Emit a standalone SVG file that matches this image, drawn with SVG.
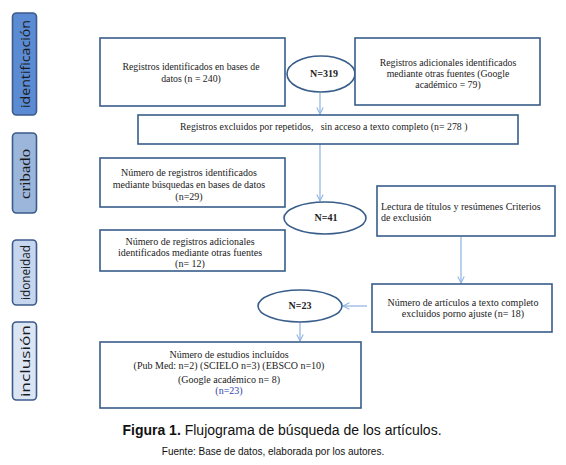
<svg xmlns="http://www.w3.org/2000/svg" width="566" height="465" viewBox="0 0 566 465">
<defs>
<marker id="arr" viewBox="0 0 10 10" refX="9" refY="5" markerWidth="8" markerHeight="8" orient="auto" markerUnits="userSpaceOnUse">
<path d="M1,1 L9,5 L1,9" fill="none" stroke="#8db3e2" stroke-width="1.3"/>
</marker>
</defs>
<style>
.box{fill:#fff;stroke:#385d8a;stroke-width:1.6}
.tab{stroke:#3b5b8a;stroke-width:1.6}
.t{font-family:"Liberation Serif","Times New Roman",serif;font-size:9.8px;fill:#222}
.m{font-size:10px}
.c{text-anchor:middle}
.b{font-weight:bold;font-size:10px}
.tabt{font-family:"Open Sans","Liberation Sans",sans-serif;font-size:13px;fill:#1a1a1a;text-anchor:middle;dominant-baseline:central}
.tabs{font-family:"Liberation Serif","Times New Roman",serif;font-size:15px;fill:#1a1a1a;text-anchor:middle;dominant-baseline:central}
.conn{stroke:#8db3e2;stroke-width:1.2;fill:none;marker-end:url(#arr)}
</style>
<rect width="566" height="465" fill="#fff"/>

<g id="tab-identificacion">
<rect class="tab" x="12.5" y="13" width="24" height="102" rx="4" fill="#5b8bd3"/>
<text class="tabt" transform="translate(25,64) rotate(-90)" textLength="88" lengthAdjust="spacingAndGlyphs">identificación</text>
</g>
<g id="tab-cribado">
<rect class="tab" x="12.5" y="133" width="24" height="80" rx="4" fill="#9cb5da"/>
<text class="tabs" transform="translate(25,174) rotate(-90)" textLength="50" lengthAdjust="spacingAndGlyphs">cribado</text>
</g>
<g id="tab-idoneidad">
<rect class="tab" x="12.5" y="240" width="24" height="65" rx="4" fill="#c6d6ee"/>
<text class="tabt" transform="translate(25,272.5) rotate(-90)" textLength="55" lengthAdjust="spacingAndGlyphs">idoneidad</text>
</g>
<g id="tab-inclusion">
<rect class="tab" x="12.5" y="322" width="24" height="78" rx="4" fill="#dbe5f4"/>
<text class="tabt" transform="translate(25,361) rotate(-90)" textLength="72" lengthAdjust="spacingAndGlyphs">inclusión</text>
</g>

<g id="connectors">
<line class="conn" x1="320" y1="93" x2="320" y2="114"/>
<line class="conn" x1="320" y1="144" x2="320" y2="201"/>
<line class="conn" x1="461" y1="237" x2="461" y2="283"/>
<line class="conn" x1="367" y1="306" x2="343" y2="306"/>
<line class="conn" x1="300" y1="322" x2="300" y2="341"/>
</g>

<g id="n1">
<rect class="box" x="100" y="38" width="185" height="68"/>
<text class="t c" x="191" y="70">Registros identificados en bases de</text>
<text class="t c" x="191" y="82">datos (n = 240)</text>
</g>
<g id="n319">
<ellipse class="box" cx="321" cy="74" rx="34" ry="18"/>
<text class="t c b" x="324" y="77">N=319</text>
</g>
<g id="n2">
<rect class="box" x="355" y="38" width="185" height="67"/>
<text class="t c" x="448" y="66">Registros adicionales identificados</text>
<text class="t c" x="448" y="77">mediante otras fuentes (Google</text>
<text class="t c" x="448" y="88">académico = 79)</text>
</g>
<g id="n3">
<rect class="box" x="138" y="115" width="380" height="29"/>
<text class="t" x="180" y="130" style="white-space:pre" xml:space="preserve">Registros excluidos por repetidos,   sin acceso a texto completo (n= 278 )</text>
</g>
<g id="n4">
<rect class="box" x="100" y="158" width="185" height="49"/>
<text class="t c m" x="189" y="176">Número de registros identificados</text>
<text class="t c m" x="189" y="188">mediante búsquedas en bases de datos</text>
<text class="t c m" x="189" y="200">(n=29)</text>
</g>
<g id="n41">
<ellipse class="box" cx="325" cy="218" rx="41" ry="16"/>
<text class="t c b" x="326" y="221">N=41</text>
</g>
<g id="n5">
<rect class="box" x="377" y="186" width="178" height="50"/>
<text class="t m" x="381" y="210">Lectura de títulos y resúmenes Criterios</text>
<text class="t m" x="381" y="221">de exclusión</text>
</g>
<g id="n6">
<rect class="box" x="100" y="230" width="185" height="41"/>
<text class="t c m" x="190" y="245">Número de registros adicionales</text>
<text class="t c m" x="190" y="256">identificados mediante otras fuentes</text>
<text class="t c m" x="190" y="267">(n= 12)</text>
</g>
<g id="n23">
<ellipse class="box" cx="300" cy="306" rx="42" ry="16"/>
<text class="t c b" x="300" y="309">N=23</text>
</g>
<g id="n7">
<rect class="box" x="372" y="284" width="180" height="48"/>
<text class="t c m" x="463" y="306">Número de artículos a texto completo</text>
<text class="t c m" x="463" y="317">excluidos porno ajuste (n= 18)</text>
</g>
<g id="n8">
<rect class="box" x="100" y="342" width="261" height="66"/>
<text class="t c m" x="229" y="358">Número de estudios incluídos</text>
<text class="t c m" x="229" y="369">(Pub Med: n=2) (SCIELO n=3) (EBSCO n=10)</text>
<text class="t c m" x="229" y="383">(Google académico n= 8)</text>
<text class="t c m" x="229" y="394" style="fill:#2f3fb0">(n=23)</text>
</g>

<g id="caption">
<text x="282" y="435" style="font-family:'Liberation Sans',Arial,sans-serif;font-size:14px;fill:#111;text-anchor:middle"><tspan font-weight="bold">Figura 1.</tspan> Flujograma de búsqueda de los artículos.</text>
<text x="273" y="455" style="font-family:'Liberation Sans',Arial,sans-serif;font-size:10px;fill:#111;text-anchor:middle">Fuente: Base de datos, elaborada por los autores.</text>
</g>
</svg>
